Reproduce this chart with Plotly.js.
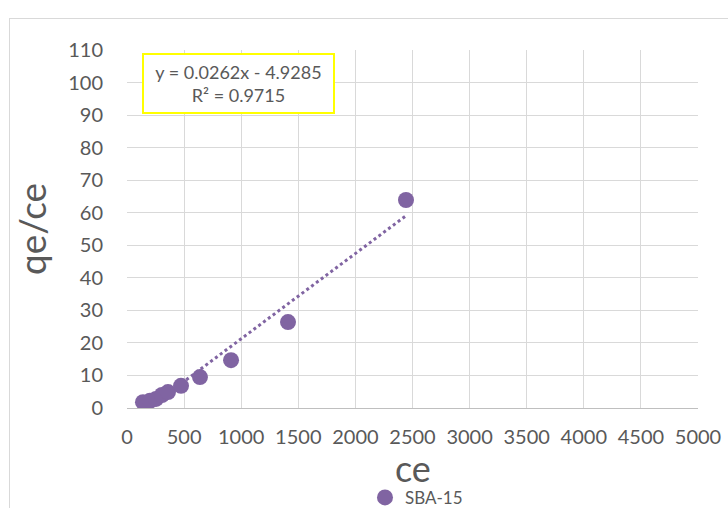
<!DOCTYPE html>
<html><head><meta charset="utf-8">
<script src="https://cdn.plot.ly/plotly-3.0.1.min.js"></script>
<style>
html,body{margin:0;padding:0;background:#fff;}
#wrap{position:relative;width:728px;height:508px;overflow:hidden;}
#frame{position:absolute;left:9px;top:18px;width:740px;height:520px;border:1px solid #d9d9d9;box-sizing:border-box;}
#chart{position:absolute;left:0;top:0;width:728px;height:508px;}
</style></head>
<body><div id="wrap"><div id="frame"></div><div id="chart"></div></div>
<script>
const seriesName = "SBA-15";
const xTitle = "ce";
const yTitle = "qe/ce";
const ce = [140, 201, 254, 306, 359, 473, 639, 911, 1410, 2443];
const qeCe = [1.8, 2.2, 2.8, 4.0, 4.9, 6.8, 9.5, 14.7, 26.4, 63.9];
const slope = 0.0262, intercept = -4.9285, r2 = 0.9715;
const xTicks = [0,500,1000,1500,2000,2500,3000,3500,4000,4500,5000];
const yTicks = [0,10,20,30,40,50,60,70,80,90,100,110];

const xMin = Math.min(...ce), xMax = Math.max(...ce);
const color = "#8064A2";
const font = "Lato, 'Open Sans', sans-serif";

const traces = [
  {x:[xMin,xMax], y:[slope*xMin+intercept, slope*xMax+intercept], mode:"lines",
   line:{color:color,width:3,dash:"dot"}, showlegend:false, hoverinfo:"skip"},
  {x:ce, y:qeCe, mode:"markers", name:seriesName,
   marker:{color:color,size:16}}
];

const layout = {
  width:728, height:508,
  margin:{l:127,r:30,t:50,b:100},
  paper_bgcolor:"rgba(0,0,0,0)", plot_bgcolor:"#fff",
  font:{family:font,color:"#595959",size:17},
  xaxis:{range:[0,5000], tickvals:xTicks, ticktext:xTicks.map(String), automargin:false,
    showgrid:true, gridcolor:"#d9d9d9", gridwidth:1, zeroline:false,
    showline:true, linecolor:"#bfbfbf", linewidth:1, ticks:"", ticklabelstandoff:11,
    tickfont:{size:20}},
  yaxis:{range:[0,110], tickvals:yTicks, ticktext:yTicks.map(String), automargin:false,
    showgrid:true, gridcolor:"#d9d9d9", gridwidth:1, zeroline:false,
    showline:false, ticks:"", ticklabelstandoff:23,
    tickfont:{size:20},
    title:{text:yTitle, font:{size:37,color:"#595959"}, standoff:10}},
  showlegend:true,
  legend:{orientation:"h", x:0.507, xanchor:"center", yref:"container", y:0.02, yanchor:"middle",
    font:{size:17,color:"#595959"}, itemwidth:30, bgcolor:"rgba(0,0,0,0)"},
  annotations:[{
    xref:"x", yref:"y", x:976, y:99.7, xanchor:"center", yanchor:"middle",
    text:"y = "+slope+"x - "+Math.abs(intercept)+"<br>R² = "+r2,
    showarrow:false, align:"center", font:{size:18,color:"#595959"},
    bordercolor:"#ffff00", borderwidth:2, borderpad:2, bgcolor:"#fff",
    width:185, height:53
  },{
    xref:"paper", yref:"paper", x:0.5, y:-0.168, xanchor:"center", yanchor:"middle",
    text:xTitle, showarrow:false, font:{size:36,color:"#595959"}
  }]
};
Plotly.newPlot("chart", traces, layout, {displayModeBar:false, staticPlot:true});
</script></body></html>
